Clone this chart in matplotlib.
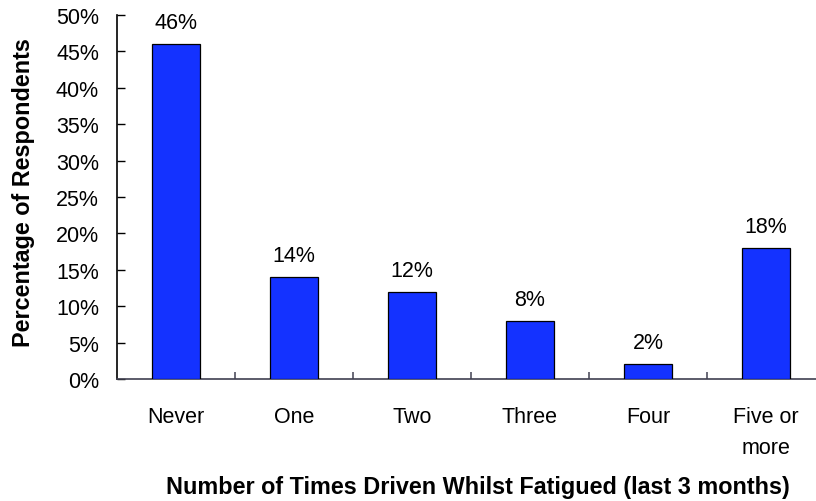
import matplotlib
matplotlib.use("Agg")
import matplotlib.pyplot as plt
from matplotlib.ticker import FixedLocator, PercentFormatter

plt.rcParams['font.family'] = ['Liberation Sans', 'DejaVu Sans']

categories = ["Never", "One", "Two", "Three", "Four", "Five or\nmore"]
values = [46, 14, 12, 8, 2, 18]
yticks = [0, 5, 10, 15, 20, 25, 30, 35, 40, 45, 50]
xlabel = "Number of Times Driven Whilst Fatigued (last 3 months)"
ylabel = "Percentage of Respondents"

W, H = 816, 502
FS = 15.5
FSB = 16.8
fig = plt.figure(figsize=(W / 100, H / 100), dpi=100)
ax = fig.add_axes([117 / W, 122 / H, 708 / W, 364 / H])

x = list(range(len(categories)))
ax.bar(x, values, width=0.41, color="#1432FF", edgecolor="#000000", linewidth=0.9, zorder=3)

for xi, v in zip(x, values):
    ax.annotate(f"{v}%", (xi, v), xytext=(0, 8), textcoords="offset points",
                ha="center", va="bottom", fontsize=FS)

ax.set_xlim(-0.5, len(categories) - 0.5)
ax.set_ylim(0, 50)
ax.set_yticks(yticks)
ax.yaxis.set_major_formatter(PercentFormatter(decimals=0))
ax.set_xticks(x)
ax.set_xticklabels(categories, fontsize=FS, linespacing=1.62)
ax.xaxis.set_minor_locator(FixedLocator([i + 0.5 for i in range(len(categories) - 1)]))

ax.tick_params(axis="x", which="major", length=0, pad=19.5)
ax.tick_params(axis="x", which="minor", direction="in", length=5, width=1.2, color="#505060")
ax.tick_params(axis="y", which="major", direction="in", length=6, width=1, pad=13, labelsize=FS)

for s in ["top", "right"]:
    ax.spines[s].set_visible(False)
ax.spines["left"].set_color("#000000")
ax.spines["bottom"].set_color("#404050")
ax.spines["left"].set_linewidth(1.2)
ax.spines["bottom"].set_linewidth(1.2)

ax.set_xlabel(xlabel, fontsize=FSB, fontweight="bold")
ax.set_ylabel(ylabel, fontsize=FSB, fontweight="bold")
ax.xaxis.label.set_va("center")
ax.yaxis.label.set_va("center")
ax.xaxis.set_label_coords((478 - 117) / 708, -(488 - 380) / 364)
ax.yaxis.set_label_coords((24 - 117) / 708, (380 - 193) / 364)

fig.savefig("out.png", dpi=100)
